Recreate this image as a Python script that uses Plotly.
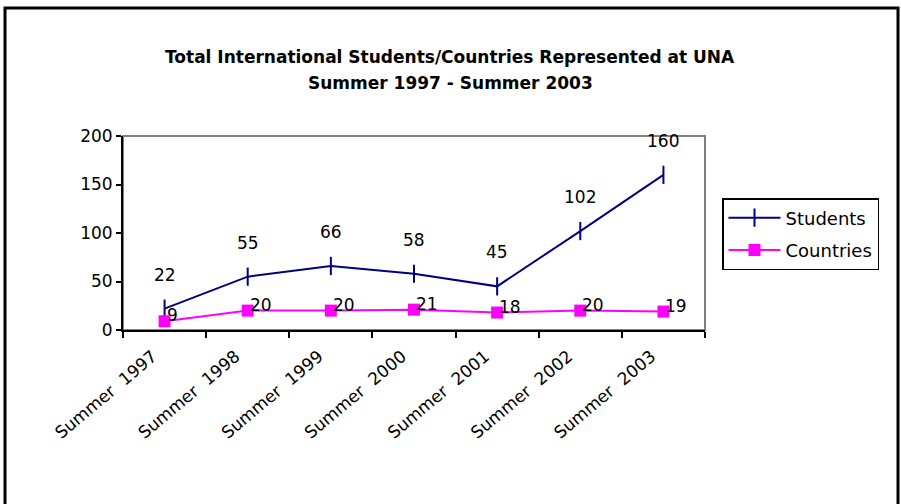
import plotly.graph_objects as go

# data
terms = ["Summer\u00a0\u00a01997", "Summer\u00a0\u00a01998", "Summer\u00a0\u00a01999",
         "Summer\u00a0\u00a02000", "Summer\u00a0\u00a02001", "Summer\u00a0\u00a02002",
         "Summer\u00a0\u00a02003"]
students = [22, 55, 66, 58, 45, 102, 160]
countries = [9, 20, 20, 21, 18, 20, 19]

FONT = "DejaVu Sans, Arial, sans-serif"
W, H = 901, 504
L, R, T, B = 123, 705, 136, 330   # plot area in pixels


def px(x):
    return (x - L) / (R - L)


def py(y):
    return (B - y) / (B - T)


fig = go.Figure()

fig.add_trace(go.Scatter(
    x=terms, y=students, name="Students", mode="lines+markers",
    line=dict(color="#000080", width=2),
    marker=dict(symbol="line-ns", size=13, line=dict(color="#000080", width=2)),
    legendgroup="s",
))
fig.add_trace(go.Scatter(
    x=terms, y=countries, name="Countries", mode="lines+markers",
    line=dict(color="#FF00FF", width=2),
    marker=dict(symbol="square", size=12, color="#FF00FF"),
    legendgroup="c",
))

# data labels
for t, v in zip(terms, students):
    fig.add_annotation(x=t, y=v, text=str(v), showarrow=False, yshift=34,
                       font=dict(size=17, color="black", family=FONT))
for t, v in zip(terms, countries):
    fig.add_annotation(x=t, y=v, text=str(v), showarrow=False, xanchor="left",
                       xshift=0, yshift=6,
                       font=dict(size=17, color="black", family=FONT))

# title
fig.add_annotation(xref="paper", yref="paper", x=px(450), y=py(45),
                   text="<b>Total International Students/Countries Represented at UNA</b>",
                   showarrow=False, font=dict(size=17, color="black", family=FONT))
fig.add_annotation(xref="paper", yref="paper", x=px(450), y=py(71),
                   text="<b>Summer 1997 - Summer 2003</b>",
                   showarrow=False, font=dict(size=17, color="black", family=FONT))

# plot area border (grey) and outer chart border (black)
fig.add_shape(type="rect", xref="paper", yref="paper", x0=0, x1=1, y0=0, y1=1,
              line=dict(color="#808080", width=2), layer="below")
fig.add_shape(type="rect", xref="paper", yref="paper",
              x0=px(5), x1=px(898), y0=py(520), y1=py(8),
              line=dict(color="black", width=3))

fig.update_layout(
    width=W, height=H,
    margin=dict(l=L, r=W - R, t=T, b=H - B),
    paper_bgcolor="white", plot_bgcolor="white",
    font=dict(family=FONT, size=17, color="black"),
    showlegend=True,
    legend=dict(
        x=px(722), y=py(198), xanchor="left", yanchor="top",
        bordercolor="black", borderwidth=1.5, bgcolor="white",
        font=dict(size=18, family=FONT), traceorder="grouped", tracegroupgap=6,
        itemwidth=52,
    ),
    xaxis=dict(
        type="category", range=[-0.5, 6.5], tickson="boundaries",
        ticks="outside", ticklen=6, tickcolor="black", tickwidth=2,
        showline=True, linecolor="black", linewidth=2,
        showgrid=False, tickangle=-40, tickfont=dict(size=17),
        ticklabelshift=-12, ticklabelstandoff=8,
    ),
    yaxis=dict(
        range=[0, 200], tickvals=[0, 50, 100, 150, 200],
        ticks="outside", ticklen=5, tickcolor="black", tickwidth=2,
        showline=True, linecolor="black", linewidth=2,
        showgrid=False, zeroline=False, tickfont=dict(size=17),
    ),
)

fig.write_html("out.html", config={"displayModeBar": False},
               post_script="document.body.style.margin='0';")
